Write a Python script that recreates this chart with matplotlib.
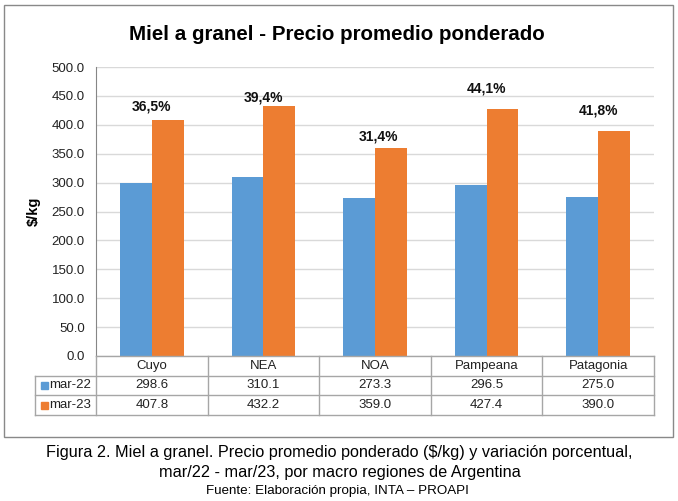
import matplotlib.pyplot as plt
import numpy as np
from matplotlib.patches import Rectangle
from matplotlib.transforms import blended_transform_factory

plt.rcParams['font.family'] = ['Liberation Sans', 'DejaVu Sans']

regiones = ['Cuyo', 'NEA', 'NOA', 'Pampeana', 'Patagonia']
mar22 = [298.6, 310.1, 273.3, 296.5, 275.0]
mar23 = [407.8, 432.2, 359.0, 427.4, 390.0]
variacion = ['36,5%', '39,4%', '31,4%', '44,1%', '41,8%']
var_y = [431, 448, 379, 462, 424]      # where the % labels sit (data units)
var_dx = [0, 0, 0.035, 0, 0]
series = ['mar-22', 'mar-23']

azul = '#5B9BD5'
naranja = '#ED7D31'
gris = '#A6A6A6'

W, H = 678, 501
fig = plt.figure(figsize=(W / 100, H / 100), dpi=100)

def fx(px):
    return px / W

def fy(py):
    return 1 - py / H

ax = fig.add_axes([fx(96), fy(356), fx(654) - fx(96), fy(67) - fy(356)])

x = np.arange(len(regiones))
w = 1 / 3.5
ax.bar(x - w / 2, mar22, w, color=azul, zorder=3)
ax.bar(x + w / 2, mar23, w, color=naranja, zorder=3)

for i, t in enumerate(variacion):
    ax.text(x[i] + var_dx[i], var_y[i], t, ha='center', va='center',
            fontsize=10, fontweight='bold', color='#111111')

ax.set_xlim(-0.5, len(regiones) - 0.5)
ax.set_ylim(0, 500)
ax.set_yticks(np.arange(0, 501, 50))
ax.set_yticklabels(['%.1f' % v for v in np.arange(0, 501, 50)], fontsize=9.5, color='#222222')
ax.set_xticks([])
ax.grid(axis='y', color='#D9D9D9', linewidth=1, zorder=0)
ax.tick_params(axis='y', length=0, pad=8)
for s in ['top', 'right', 'bottom']:
    ax.spines[s].set_visible(False)
ax.spines['left'].set_color('#868686')
ax.set_ylabel('$/kg', fontsize=10.5, fontweight='bold', labelpad=8)

# tabla de datos bajo el grafico
tr = blended_transform_factory(ax.transData, fig.transFigure)
filas = [356, 375.7, 395, 415]
lw = 1.0
# lineas horizontales
fig.add_artist(plt.Line2D([fx(96), fx(654)], [fy(356), fy(356)], color=gris, lw=lw))
for yy in filas[1:]:
    fig.add_artist(plt.Line2D([fx(35), fx(654)], [fy(yy), fy(yy)], color=gris, lw=lw))
# lineas verticales
fig.add_artist(plt.Line2D([fx(35), fx(35)], [fy(375.7), fy(415)], color=gris, lw=lw))
for k in range(len(regiones) + 1):
    fig.add_artist(plt.Line2D([k - 0.5, k - 0.5], [fy(356), fy(415)], color=gris, lw=lw,
                              transform=tr))

for i, r in enumerate(regiones):
    ax.text(x[i], fy((filas[0] + filas[1]) / 2), r, transform=tr, ha='center', va='center',
            fontsize=9.5, color='#222222', clip_on=False)
    ax.text(x[i], fy((filas[1] + filas[2]) / 2), '%.1f' % mar22[i], transform=tr,
            ha='center', va='center', fontsize=9.5, color='#222222', clip_on=False)
    ax.text(x[i], fy((filas[2] + filas[3]) / 2), '%.1f' % mar23[i], transform=tr,
            ha='center', va='center', fontsize=9.5, color='#222222', clip_on=False)

for j, (nombre, c) in enumerate(zip(series, [azul, naranja])):
    yc = (filas[j + 1] + filas[j + 2]) / 2
    fig.add_artist(Rectangle((fx(41), fy(yc + 3.5)), fx(7), 7 / H, color=c))
    fig.text(fx(49.5), fy(yc), nombre, ha='left', va='center', fontsize=9.5, color='#222222')

# titulo y borde
fig.text(fx(336.5), fy(34), 'Miel a granel - Precio promedio ponderado', ha='center', va='center',
         fontsize=14.8, fontweight='bold')
fig.add_artist(Rectangle((fx(4), fy(437)), fx(669), (437 - 5) / H, fill=False,
                         edgecolor='#898989', lw=1))

# pie de figura
fig.text(fx(339.5), fy(453), 'Figura 2. Miel a granel. Precio promedio ponderado ($/kg) y variación porcentual,',
         ha='center', va='center', fontsize=11.7)
fig.text(fx(339.5), fy(472), 'mar/22 - mar/23, por macro regiones de Argentina',
         ha='center', va='center', fontsize=11.7)
fig.text(fx(337.5), fy(491), 'Fuente: Elaboración propia, INTA – PROAPI',
         ha='center', va='center', fontsize=9.6)

fig.savefig('out.png', dpi=100)
